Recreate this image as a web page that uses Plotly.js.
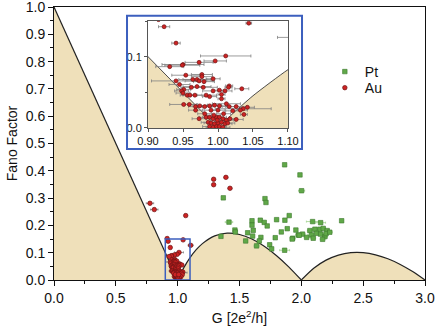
<!DOCTYPE html>
<html>
<head>
<meta charset="utf-8">
<script src="https://cdn.plot.ly/plotly-3.0.1.min.js"></script>
<style>
  body { margin: 0; padding: 0; background: white; }
  #chart { width: 436px; height: 328px; }
</style>
</head>
<body>
<div id="chart"></div>
<script>
"use strict";

// courbe théorique, trois morceaux
var theo1_x = [0, 1];
var theo1_y = [1, 0];
var theo2_x = [1.0, 1.01, 1.02, 1.05, 1.1, 1.15, 1.2, 1.3, 1.4, 1.5, 1.6, 1.7, 1.8, 1.9, 2.0];
var theo2_y = [0, 0.0098, 0.0192, 0.0452, 0.0818, 0.1109, 0.1333, 0.1615, 0.1714, 0.1667, 0.15, 0.1235, 0.0889, 0.0474, 0];
var theo3_x = [2.0, 2.1, 2.2, 2.3, 2.4, 2.5, 2.6, 2.7, 2.8, 2.9, 3.0];
var theo3_y = [0, 0.0429, 0.0727, 0.0913, 0.1, 0.1, 0.0923, 0.0778, 0.0571, 0.031, 0];

// Pt
var pt_g = [1.865, 1.989, 2.002, 1.369, 1.706, 1.714, 1.902, 2.326, 1.415, 1.601, 1.668, 1.700, 1.800, 1.867,
  2.091, 2.156, 1.601, 1.724, 1.886, 1.463, 1.466, 1.611, 1.566, 1.838, 1.956, 2.069, 2.110, 2.150, 2.177,
  2.209, 1.975, 2.010, 2.043, 2.083, 2.124, 2.156, 2.191, 2.096, 2.172, 1.930, 1.350, 1.606, 1.673, 1.550,
  1.660, 1.789, 1.638, 1.744, 1.760, 1.865, 1.926, 1.983, 2.200, 2.230];
var pt_f = [0.422, 0.385, 0.327, 0.301, 0.298, 0.284, 0.236, 0.217, 0.212, 0.217, 0.219, 0.211, 0.221, 0.219,
  0.214, 0.210, 0.201, 0.198, 0.188, 0.183, 0.176, 0.182, 0.173, 0.176, 0.183, 0.181, 0.186, 0.186, 0.189,
  0.181, 0.165, 0.168, 0.156, 0.165, 0.171, 0.168, 0.159, 0.153, 0.149, 0.153, 0.160, 0.161, 0.156, 0.143,
  0.143, 0.155, 0.125, 0.129, 0.114, 0.109, 0.150, 0.164, 0.170, 0.175];
var pt_err = [0.01, 0.01, 0.025, 0.01, 0.01, 0.01, 0.01, 0.01, 0.03, 0.01, 0.01, 0.01, 0.015, 0.01,
  0.05, 0.04, 0.01, 0.01, 0.01, 0.01, 0.01, 0.01, 0.01, 0.01, 0.01, 0.02, 0.02, 0.02, 0.02,
  0.02, 0.02, 0.02, 0.02, 0.03, 0.02, 0.02, 0.02, 0.02, 0.02, 0.02, 0.01, 0.01, 0.01, 0.015,
  0.01, 0.01, 0.02, 0.01, 0.01, 0.04, 0.01, 0.01, 0.02, 0.02];

// Au
var au_g = [0.776, 0.811, 1.065, 1.291, 1.291, 1.390, 1.423, 0.915, 1.105, 0.923, 0.940, 1.044, 1.011, 0.996,
  0.973, 0.950, 0.949, 0.931, 0.954, 0.977, 0.977, 0.993, 0.940, 0.964, 0.970, 0.973, 0.980, 0.945, 1.016,
  1.015, 1.034, 0.979, 0.970, 0.962, 0.951, 0.948, 0.950, 0.956, 0.960, 0.967, 0.983, 0.988, 0.993, 1.002,
  1.010, 1.005, 1.005, 0.951, 0.959, 0.968, 0.974, 0.981, 0.988, 0.995, 1.002, 1.012, 1.016, 1.026, 1.036,
  1.042, 0.968, 0.990, 1.000, 1.021, 1.032, 1.037, 0.973, 0.983, 0.988, 0.993, 0.998, 1.002, 1.007, 1.012,
  1.017, 1.026, 0.986, 0.990, 0.995, 1.000, 1.005, 1.010, 1.014, 0.988, 0.993, 0.998, 1.002, 1.007, 0.999,
  0.994, 0.981, 1.008];
var au_f = [0.281, 0.258, 0.236, 0.369, 0.349, 0.376, 0.336, 0.152, 0.127, 0.142, 0.119, 0.147, 0.101, 0.094,
  0.092, 0.089, 0.088, 0.086, 0.074, 0.075, 0.072, 0.069, 0.066, 0.068, 0.068, 0.066, 0.065, 0.061, 0.059,
  0.057, 0.055, 0.057, 0.058, 0.057, 0.054, 0.052, 0.049, 0.046, 0.046, 0.046, 0.046, 0.044, 0.052, 0.053,
  0.052, 0.047, 0.041, 0.033, 0.033, 0.030, 0.031, 0.030, 0.031, 0.032, 0.031, 0.034, 0.030, 0.030, 0.027,
  0.029, 0.025, 0.025, 0.025, 0.024, 0.025, 0.019, 0.013, 0.015, 0.015, 0.013, 0.015, 0.015, 0.013, 0.011,
  0.013, 0.012, 0.008, 0.007, 0.006, 0.007, 0.008, 0.006, 0.007, 0.002, 0.001, 0.002, 0.002, 0.001, 0.011,
  0.018, 0.020, 0.020];
var au_err = [0.03, 0.03, 0.01, 0.01, 0.01, 0.015, 0.015, 0.008, 0.02, 0.008, 0.006, 0.004, 0.036, 0.016,
  0.02, 0.03, 0.025, 0.02, 0.02, 0.015, 0.015, 0.01, 0.035, 0.02, 0.02, 0.02, 0.015, 0.015, 0.005,
  0.005, 0.01, 0.02, 0.02, 0.015, 0.01, 0.01, 0.01, 0.01, 0.01, 0.01, 0.015, 0.01, 0.015, 0.01,
  0.01, 0.005, 0.005, 0.02, 0.01, 0.01, 0.01, 0.01, 0.015, 0.01, 0.01, 0.02, 0.01, 0.015, 0.04,
  0.01, 0.01, 0.01, 0.01, 0.01, 0.01, 0.005, 0.01, 0.01, 0.01, 0.01, 0.01, 0.01, 0.01, 0.01,
  0.01, 0.01, 0.01, 0.01, 0.01, 0.01, 0.01, 0.01, 0.01, 0.01, 0.01, 0.01, 0.01, 0.01, 0.01,
  0.01, 0.01, 0.01];

var tan = 'rgb(239,224,186)';
var blue = 'rgb(60,95,190)';

function theo(x, y, xa, ya, lw) {
  //zone remplie sous la courbe théorique
  return {
    x: x, y: y, xaxis: xa, yaxis: ya,
    type: 'scatter', mode: 'lines',
    line: {color: '#222', width: lw, shape: 'spline', smoothing: 0.6},
    fill: 'tozeroy', fillcolor: tan,
    showlegend: false, hoverinfo: 'skip'
  };
}

function au_trace(xa, ya, size, errw, show) {
  return {
    x: au_g, y: au_f, xaxis: xa, yaxis: ya,
    type: 'scatter', mode: 'markers', name: 'Au', legend: 'legend2',
    marker: {symbol: 'circle', size: size, color: 'rgb(205,35,35)', line: {color: 'rgb(110,20,20)', width: 0.7}},
    error_x: {type: 'data', array: au_err, color: 'rgb(130,130,130)', thickness: 0.8, width: errw},
    showlegend: show
  };
}

var pt = {
  x: pt_g, y: pt_f, xaxis: 'x', yaxis: 'y',
  type: 'scatter', mode: 'markers', name: 'Pt', legend: 'legend',
  marker: {symbol: 'square', size: 4.5, color: 'rgb(96,168,72)', line: {color: 'rgb(60,120,45)', width: 0.6}},
  error_x: {type: 'data', array: pt_err, color: 'rgb(160,210,140)', thickness: 0.8, width: 1}
};

var data = [
  theo(theo1_x, theo1_y, 'x', 'y', 1.2),
  theo(theo2_x, theo2_y, 'x', 'y', 1.2),
  theo(theo3_x, theo3_y, 'x', 'y', 1.2),
  pt,
  au_trace('x', 'y', 4.5, 1, true),
  theo(theo1_x, theo1_y, 'x2', 'y2', 0.8),
  theo(theo2_x, theo2_y, 'x2', 'y2', 0.8),
  au_trace('x2', 'y2', 4, 1.5, false)
];

var fnt = {family: 'Liberation Sans, Arial, sans-serif', size: 14, color: '#111'};
var legfont = {family: fnt.family, size: 14, color: '#111'};

var layout = {
  width: 436, height: 328,
  margin: {l: 54, r: 11, t: 7, b: 48},
  paper_bgcolor: 'white', plot_bgcolor: 'white',
  font: fnt,
  showlegend: true,
  legend: {x: 0.73, y: 0.762, xanchor: 'left', yanchor: 'middle', bgcolor: 'rgba(0,0,0,0)', font: legfont},
  legend2: {x: 0.73, y: 0.703, xanchor: 'left', yanchor: 'middle', bgcolor: 'rgba(0,0,0,0)', font: legfont},
  xaxis: {
    range: [0, 3], dtick: 0.5, tickformat: '.1f',
    showgrid: false, zeroline: false,
    showline: true, linecolor: '#111', linewidth: 1, mirror: true,
    ticks: 'outside', ticklen: 5, tickcolor: '#111',
    minor: {dtick: 0.25, ticks: 'outside', ticklen: 3, tickcolor: '#111'},
    ticklabeloverflow: 'allow',
    title: {text: 'G [2e<sup>2</sup>/h]', font: fnt, standoff: 8}
  },
  yaxis: {
    range: [0, 1], dtick: 0.1, tickformat: '.1f',
    showgrid: false, zeroline: false,
    showline: true, linecolor: '#111', linewidth: 1, mirror: true,
    ticks: 'outside', ticklen: 5, tickcolor: '#111',
    minor: {dtick: 0.05, ticks: 'outside', ticklen: 3, tickcolor: '#111'},
    ticklabeloverflow: 'allow',
    title: {text: 'Fano Factor', font: fnt, standoff: 4}
  },
  xaxis2: {
    domain: [0.2534, 0.6307], anchor: 'y2',
    range: [0.9, 1.1], dtick: 0.05, tickformat: '.2f',
    showgrid: false, zeroline: false,
    showline: true, linecolor: '#555', linewidth: 1, mirror: true,
    ticks: 'outside', ticklen: 3, tickcolor: '#555',
    tickfont: {family: fnt.family, size: 11, color: '#111'}
  },
  yaxis2: {
    domain: [0.5568, 0.9487], anchor: 'x2',
    range: [0, 0.15], dtick: 0.1, tickformat: '.1f',
    showgrid: false, zeroline: false,
    showline: true, linecolor: '#555', linewidth: 1, mirror: true,
    ticks: 'outside', ticklen: 3, tickcolor: '#555',
    minor: {dtick: 0.05, ticks: 'outside', ticklen: 2, tickcolor: '#555'},
    tickfont: {family: fnt.family, size: 11, color: '#111'}
  },
  shapes: [
    //cadre bleu autour de l'encart
    {type: 'rect', xref: 'paper', yref: 'paper', x0: 0.1968, x1: 0.6685, y0: 0.4799, y1: 0.968,
      line: {color: blue, width: 2}},
    //petit rectangle de zoom
    {type: 'rect', xref: 'x', yref: 'y', x0: 0.9, x1: 1.1, y0: 0, y1: 0.15,
      line: {color: blue, width: 1.5}}
  ]
};

Plotly.newPlot('chart', data, layout, {staticPlot: true, displayModeBar: false});
</script>
</body>
</html>
